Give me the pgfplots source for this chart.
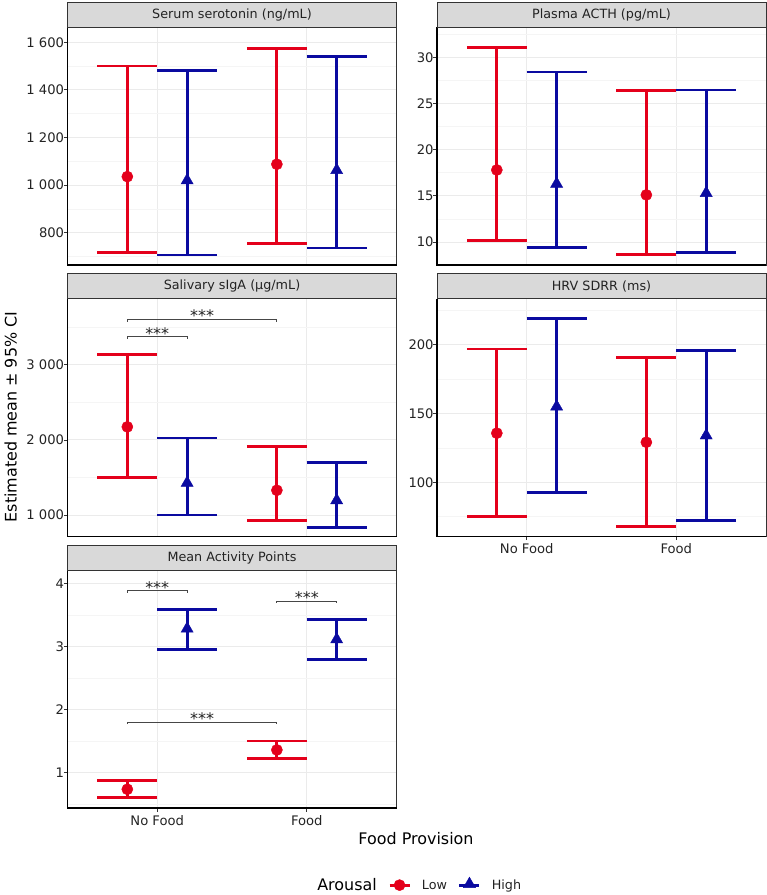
\documentclass[border=0pt]{standalone}
\usepackage{fontspec}
\setmainfont{DejaVu Sans}
\usepackage{pgfplots}
\pgfplotsset{compat=1.18}
\usepackage{pgfplotstable}

\definecolor{redc}{RGB}{228,0,27}
\definecolor{bluec}{RGB}{10,10,160}
\definecolor{gridc}{RGB}{235,235,235}
\definecolor{gridm}{RGB}{245,245,245}
\definecolor{stripc}{RGB}{217,217,217}
\definecolor{framec}{RGB}{51,51,51}
\definecolor{txtc}{RGB}{35,35,35}
\definecolor{sigc}{RGB}{70,70,70}

\newcommand\ticksize{\fontsize{13.2}{15}\selectfont}
\newcommand\stripsize{\fontsize{12.8}{15}\selectfont}
\newcommand\titlesize{\fontsize{16}{19}\selectfont}
\newcommand\starsize{\fontsize{16}{18}\selectfont}

% ---- data: x (dodged position), estimated mean, lower CI, upper CI
\pgfplotstableread{
x y lo hi
0.8 1036 719 1500
1.8 1088 756 1575
}\serumL
\pgfplotstableread{
x y lo hi
1.2 1020 707 1483
2.2 1063 736 1540
}\serumH
\pgfplotstableread{
x y lo hi
0.8 17.8 10.2 31.08
1.8 15.1 8.65 26.4
}\acthL
\pgfplotstableread{
x y lo hi
1.2 16.3 9.43 28.4
2.2 15.3 8.87 26.45
}\acthH
\pgfplotstableread{
x y lo hi
0.8 2174 1505 3138
1.8 1330 925 1917
}\igaL
\pgfplotstableread{
x y lo hi
1.2 1428 1000 2027
2.2 1196 835 1695
}\igaH
\pgfplotstableread{
x y lo hi
0.8 135.7 74.8 197
1.8 129.1 67.8 191
}\hrvL
\pgfplotstableread{
x y lo hi
1.2 155 92.3 219
2.2 134 72 196
}\hrvH
\pgfplotstableread{
x y lo hi
0.8 0.737 0.604 0.873
1.8 1.36 1.23 1.50
}\actL
\pgfplotstableread{
x y lo hi
1.2 3.28 2.95 3.59
2.2 3.11 2.79 3.43
}\actH

\pgfplotsset{
  panel/.style={
    scale only axis, width=329bp, height=238bp,
    xmin=0.4, xmax=2.6, xtick={1,2},
    clip=false,
    xtick pos=bottom, ytick pos=left,
    axis line style={framec, line width=0.6bp},
    xmajorgrids, ymajorgrids, yminorgrids,
    major grid style={gridc, line width=0.9bp},
    minor grid style={gridm, line width=0.5bp},
    tick align=outside, major tick length=3.7bp, minor tick length=0pt,
    tick style={framec, line width=0.8bp},
    ticklabel style={font=\ticksize, text=txtc},
    yticklabel style={anchor=east, inner sep=0pt, xshift=0.5bp},
    xticklabel style={anchor=base, inner sep=0pt, yshift=-13.5bp},
  },
  noxlab/.style={xticklabels={}, xtick style={draw=none}},
  lowS/.style={color=redc, only marks, mark=*, mark size=5.6bp,
    mark options={draw=none, fill=redc},
    error bars/y dir=both, error bars/y explicit,
    error bars/error mark=|,
    error bars/error bar style={redc, line width=2.8bp},
    error bars/error mark options={redc, line width=2.8bp, mark size=30bp},
    legend image code/.code={\draw[redc, line width=2.8bp] (0bp,0bp) -- (20bp,0bp);
      \draw[redc] plot[mark=*, mark size=5.6bp, mark options={draw=none, fill=redc}] coordinates {(10bp,0bp)};}},
  highS/.style={color=bluec, only marks, mark=triangle*, mark size=7bp,
    mark options={draw=none, fill=bluec},
    error bars/y dir=both, error bars/y explicit,
    error bars/error mark=|,
    error bars/error bar style={bluec, line width=2.8bp},
    error bars/error mark options={bluec, line width=2.8bp, mark size=30bp},
    legend image code/.code={\draw[bluec, line width=2.8bp] (0bp,0bp) -- (20bp,0bp);
      \draw[bluec] plot[mark=triangle*, mark size=7bp, mark options={draw=none, fill=bluec}] coordinates {(10bp,1bp)};}},
  sig/.style={sigc, line width=0.8bp, forget plot},
}

\newcommand\plotpair[2]{%
  \addplot[lowS] table[x=x, y=y, y error plus expr=\thisrow{hi}-\thisrow{y}, y error minus expr=\thisrow{y}-\thisrow{lo}] {#1};
  \addplot[highS] table[x=x, y=y, y error plus expr=\thisrow{hi}-\thisrow{y}, y error minus expr=\thisrow{y}-\thisrow{lo}] {#2};
}
\newcommand\axisLB{\draw[black, line width=1.3bp] (rel axis cs:0,1) -- (rel axis cs:0,0) -- (rel axis cs:1,0);}

\begin{document}
\begin{tikzpicture}
\useasboundingbox (0,0) rectangle (767bp,-895bp);

% ---------- Panel 1: Serum serotonin
\begin{axis}[panel, noxlab, at={(67.5bp,-265bp)}, anchor=south west,
  ymin=665, ymax=1664,
  ytick={800,1000,1200,1400,1600},
  yticklabels={800\hspace{10bp},1 000,1 200,1 400,1 600},
  minor ytick={700,900,1100,1300,1500}]
\plotpair{\serumL}{\serumH}
\axisLB
\end{axis}
\draw[fill=stripc, draw=framec, line width=0.7bp] (67.5bp,-27bp) rectangle (396.5bp,-2bp);
\node[font=\stripsize, text=txtc] at (232bp,-14.5bp) {Serum serotonin (ng/mL)};

% ---------- Panel 2: Plasma ACTH
\begin{axis}[panel, noxlab, at={(437bp,-265bp)}, anchor=south west,
  ymin=7.51, ymax=33.28,
  ytick={10,15,20,25,30},
  yticklabels={10,15,20,25,30},
  minor ytick={7.5,12.5,17.5,22.5,27.5,32.5}]
\plotpair{\acthL}{\acthH}
\axisLB
\end{axis}
\draw[fill=stripc, draw=framec, line width=0.7bp] (437bp,-27bp) rectangle (766bp,-2bp);
\node[font=\stripsize, text=txtc] at (601.5bp,-14.5bp) {Plasma ACTH (pg/mL)};

% ---------- Panel 3: Salivary sIgA
\begin{axis}[panel, noxlab, at={(67.5bp,-536.5bp)}, anchor=south west,
  ymin=715, ymax=3882,
  ytick={1000,2000,3000},
  yticklabels={1 000,2 000,3 000},
  minor ytick={1500,2500,3500}]
\plotpair{\igaL}{\igaH}
\addplot[sig] coordinates {(0.8,3347) (0.8,3374) (1.2,3374) (1.2,3347)};
\addplot[sig] coordinates {(0.8,3575) (0.8,3602) (1.8,3602) (1.8,3575)};
\node[font=\starsize, text=txtc, anchor=base, inner sep=0pt, yshift=-2.4bp] at (axis cs:1.0,3374) {***};
\node[font=\starsize, text=txtc, anchor=base, inner sep=0pt, yshift=-2.4bp] at (axis cs:1.3,3602) {***};
\axisLB
\end{axis}
\draw[fill=stripc, draw=framec, line width=0.7bp] (67.5bp,-298.5bp) rectangle (396.5bp,-273.5bp);
\node[font=\stripsize, text=txtc] at (232bp,-286bp) {Salivary sIgA (µg/mL)};

% ---------- Panel 4: HRV SDRR
\begin{axis}[panel, at={(437bp,-536.5bp)}, anchor=south west,
  ymin=60.5, ymax=233.7,
  ytick={100,150,200},
  yticklabels={100,150,200},
  minor ytick={75,125,175,225},
  xticklabels={No Food,Food}]
\plotpair{\hrvL}{\hrvH}
\axisLB
\end{axis}
\draw[fill=stripc, draw=framec, line width=0.7bp] (437bp,-298.5bp) rectangle (766bp,-273.5bp);
\node[font=\stripsize, text=txtc] at (601.5bp,-286bp) {HRV SDRR (ms)};

% ---------- Panel 5: Mean Activity Points
\begin{axis}[panel, at={(67.5bp,-808bp)}, anchor=south west,
  ymin=0.44, ymax=4.21,
  ytick={1,2,3,4},
  yticklabels={1,2,3,4},
  minor ytick={0.5,1.5,2.5,3.5},
  xticklabels={No Food,Food},
  legend columns=-1,
  legend style={at={(0.974,-0.319)}, anchor=west, draw=none, fill=none,
    inner sep=0pt, column sep=11bp, font=\stripsize,
    nodes={inner sep=0pt, text=txtc}}]
\plotpair{\actL}{\actH}
\addlegendentry{Low}
\addlegendentry{High}
\addplot[sig] coordinates {(0.8,3.85) (0.8,3.88) (1.2,3.88) (1.2,3.85)};
\addplot[sig] coordinates {(1.8,3.69) (1.8,3.72) (2.2,3.72) (2.2,3.69)};
\addplot[sig] coordinates {(0.8,1.77) (0.8,1.80) (1.8,1.80) (1.8,1.77)};
\node[font=\starsize, text=txtc, anchor=base, inner sep=0pt, yshift=-2.4bp] at (axis cs:1.0,3.88) {***};
\node[font=\starsize, text=txtc, anchor=base, inner sep=0pt, yshift=-2.4bp] at (axis cs:2.0,3.72) {***};
\node[font=\starsize, text=txtc, anchor=base, inner sep=0pt, yshift=-2.4bp] at (axis cs:1.3,1.80) {***};
\axisLB
\end{axis}
\draw[fill=stripc, draw=framec, line width=0.7bp] (67.5bp,-570bp) rectangle (396.5bp,-545bp);
\node[font=\stripsize, text=txtc] at (232bp,-557.5bp) {Mean Activity Points};

% ---------- global titles and legend title
\node[font=\titlesize, text=black, rotate=90, anchor=base] at (16.5bp,-417bp) {Estimated mean ± 95\% CI};
\node[font=\titlesize, text=black, anchor=base] at (416bp,-844bp) {Food Provision};
\node[font=\titlesize, text=black, anchor=base] at (347bp,-890bp) {Arousal};
\end{tikzpicture}
\end{document}
